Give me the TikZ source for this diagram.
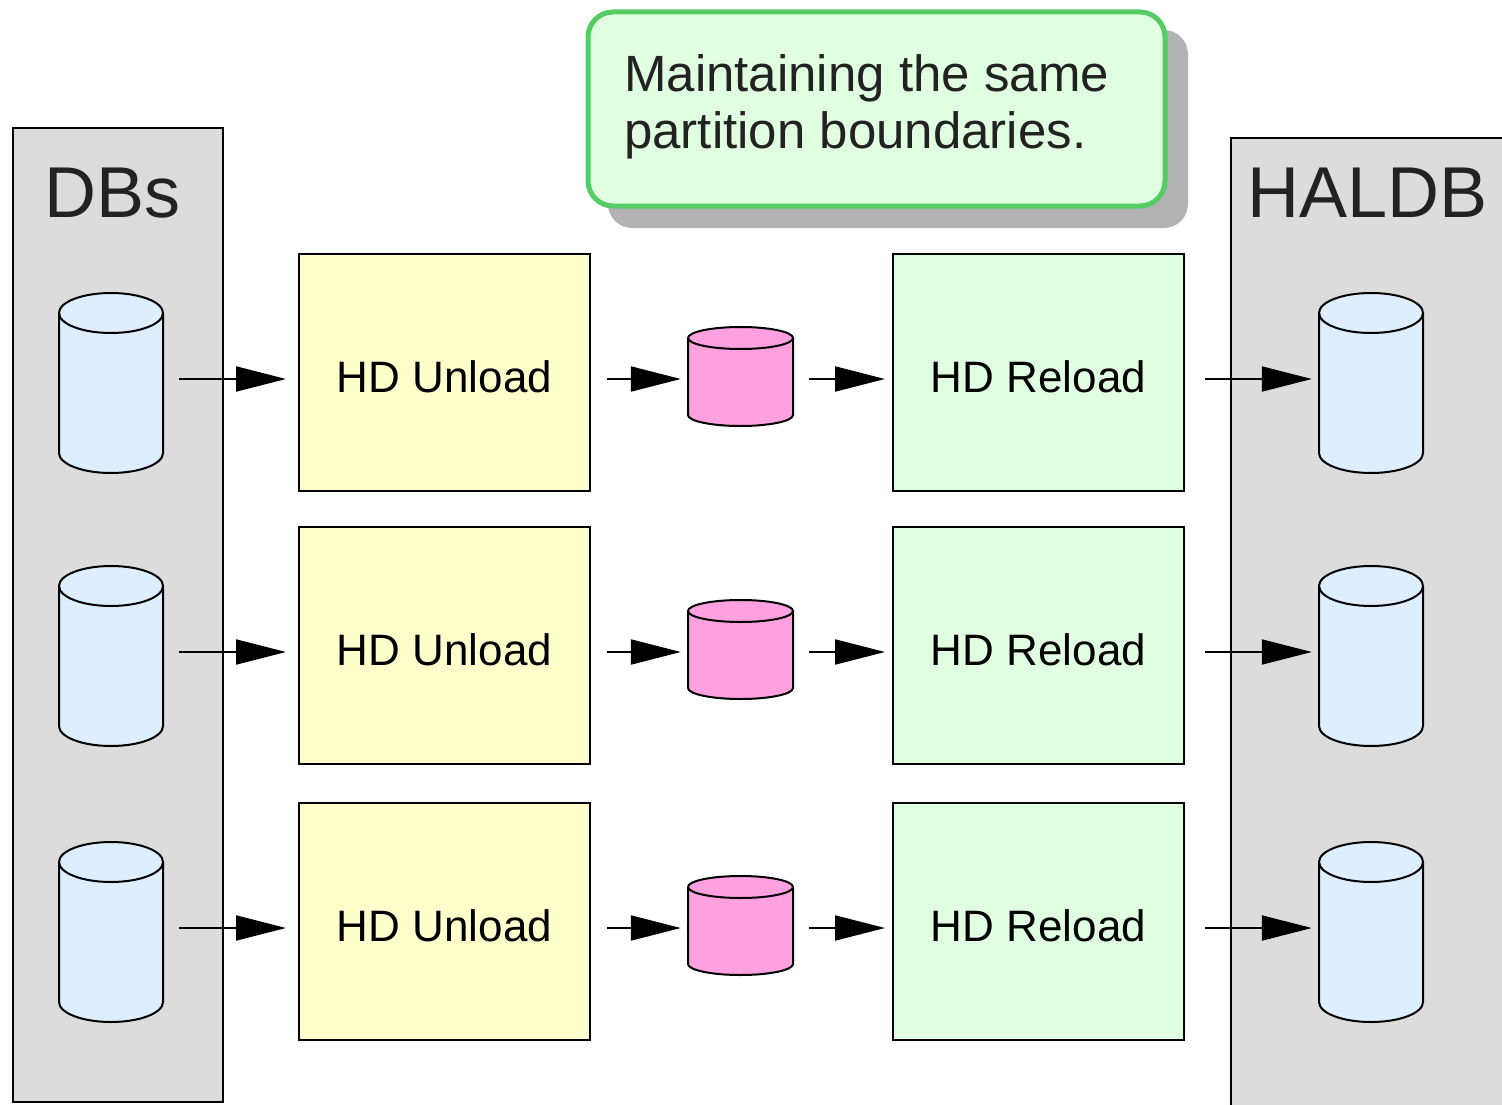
\documentclass[tikz,border=0pt]{standalone}
\usepackage{fontspec}
\setmainfont{Liberation Sans}
\usetikzlibrary{arrows.meta}
\definecolor{panelgray}{HTML}{DCDCDC}
\definecolor{dbblue}{HTML}{DDEEFF}
\definecolor{unyellow}{HTML}{FFFFCC}
\definecolor{regreen}{HTML}{E0FFE0}
\definecolor{tmppink}{HTML}{FFA0E0}
\definecolor{callgreen}{HTML}{55CC66}
\definecolor{shadowgray}{HTML}{B3B3B3}
\definecolor{txtgray}{HTML}{222222}
\newcommand\cylnode[7]{%
  \filldraw[fill=#7, draw=black, line width=2pt]
    ({#2-#4/2},{#3+#6}) -- ({#2-#4/2},{#3+#5-#6})
    arc[start angle=180, end angle=0, x radius=#4/2, y radius=#6]
    -- ({#2+#4/2},{#3+#6})
    arc[start angle=0, end angle=-180, x radius=#4/2, y radius=#6] -- cycle;
  \draw[line width=2pt] ({#2+#4/2},{#3+#6})
    arc[start angle=0, end angle=180, x radius=#4/2, y radius=#6];
  \node[draw=none, inner sep=0pt, minimum width=#4pt, minimum height=#5pt] (#1) at (#2,{#3+#5/2}) {};
}
\begin{document}
\begin{tikzpicture}[x=1pt,y=-1pt,
  panel/.style={draw=black, line width=2pt, fill=panelgray},
  title/.style={anchor=base west, inner sep=0pt, text=txtgray, font=\fontsize{72}{80}\selectfont},
  stepbox/.style={draw=black, line width=2pt, minimum width=291pt, minimum height=237pt, inner sep=0pt,
    text height=40pt, text depth=0pt, font=\fontsize{44}{50}\selectfont},
  unbox/.style={stepbox, fill=unyellow},
  rebox/.style={stepbox, fill=regreen},
  arr/.style={line width=2pt, -{Triangle[length=50pt, width=25pt]}, shorten <=16pt, shorten >=7pt},
]
\useasboundingbox (0,0) rectangle (1502,1105);
\clip (0,0) rectangle (1502,1105);

% panels
\draw[panel] (13,128) rectangle (223,1102);
\draw[panel] (1231,138) rectangle (1530,1130);
\node[title] (dbsT) at (44,217) {DBs};
\node[title] (haldbT) at (1247,217) {HALDB};

% callout
\fill[shadowgray, rounded corners=24pt] (608,30) rectangle (1188,228);
\node[draw=callgreen, line width=5pt, fill=regreen, rounded corners=25pt,
      minimum width=577pt, minimum height=194pt, inner sep=0pt] (note) at (876.5,109) {};
\node[anchor=north west, inner sep=0pt, align=left, text=txtgray,
      font=\fontsize{51}{57}\selectfont] (noteT) at (624,54)
      {Maintaining the same\\partition boundaries.};

% rows
\foreach \i/\ct/\bc/\pt/\ry in {1/293/372.5/327/379, 2/566/645/600/652, 3/842/921/876/928}{
  \cylnode{db\i}{111}{\ct}{104}{180}{20}{dbblue}
  \cylnode{hal\i}{1371}{\ct}{104}{180}{20}{dbblue}
  \cylnode{tmp\i}{740.5}{\pt}{105}{99}{11}{tmppink}
  \node[unbox] (un\i) at (444.5,\bc) {HD Unload};
  \node[rebox] (re\i) at (1038.5,\bc) {HD Reload};
  \coordinate (r\i) at (0,\ry);
  \draw[arr, shorten >=12pt] (db\i.east |- r\i) -- (un\i.west |- r\i);
  \draw[arr] (un\i.east |- r\i) -- (tmp\i.west |- r\i);
  \draw[arr] (tmp\i.east |- r\i) -- (re\i.west |- r\i);
  \draw[arr, shorten <=20pt] (re\i.east |- r\i) -- (hal\i.west |- r\i);
}
\end{tikzpicture}
\end{document}
